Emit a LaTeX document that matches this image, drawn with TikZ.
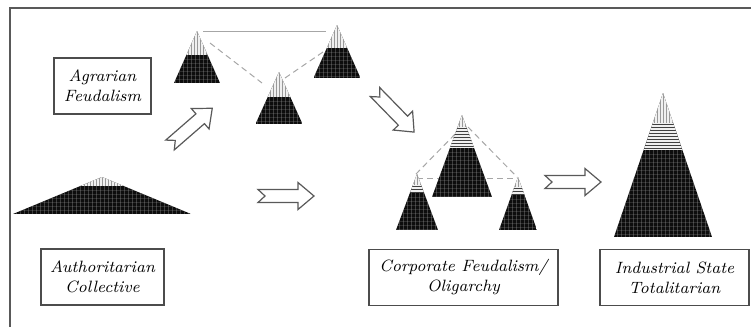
\documentclass[tikz,border=0pt]{standalone}
\usepackage{tikz}
\newcommand\pyramid[6]{%
\begin{scope}
\clip (#1,#2) -- (#1-#4,#3) -- (#1+#4,#3) -- cycle;
\fill[black!95] (#1-#4,#2) rectangle (#1+#4,#3);
\fill[gray!12] (#1-#4,#2-1) rectangle (#1+#4,#6);
\foreach \x in {-90,-87,...,90} \draw[gray!80,line width=0.5pt] (#1+\x,#2) -- (#1+\x,#5);
\begin{scope}
\clip (#1-#4,#5) rectangle (#1+#4,#6);
\foreach \y in {1.5,4.5,...,40} \draw[black!75,line width=0.8pt] (#1-#4,#5+\y) -- (#1+#4,#5+\y);
\end{scope}
\foreach \x in {-90,-86,...,90} \draw[gray!60,line width=0.2pt,opacity=0.3] (#1+\x,#6) -- (#1+\x,#3);
\foreach \y in {4,8,...,150} \draw[gray!60,line width=0.2pt,opacity=0.2] (#1-#4,#6+\y) -- (#1+#4,#6+\y);
\end{scope}}
\begin{document}
\begin{tikzpicture}[x=0.5pt,y=-0.5pt,
stagebox/.style={draw=black!70,line width=0.6pt,fill=white,align=center,minimum height=28pt,font=\fontsize{8.2}{10}\selectfont\itshape},
link/.style={draw=gray!70,line width=0.5pt},
blockarrow/.pic={\draw[black!65,fill=white,line width=0.6pt] (0,6.5) -- (40,6.5) -- (40,13.5) -- (56,0) -- (40,-13.5) -- (40,-6.5) -- (0,-6.5) -- (7,0) -- cycle;}]
\useasboundingbox (0,0) rectangle (751,327);
\draw[black!65,line width=0.8pt] (751,8) -- (10,8) -- (10,327);
\coordinate (L1) at (203,31);
\coordinate (L2) at (326,31);
\coordinate (A1) at (210,43);
\coordinate (A3) at (262,83);
\coordinate (A3r) at (285,78);
\coordinate (A2) at (323,52);
\coordinate (CM) at (462,127);
\coordinate (CMr) at (468,127);
\coordinate (CL) at (416,174);
\coordinate (CR) at (517,177);
\coordinate (CLh) at (417,178);
\coordinate (CRh) at (517,178);
\draw[link] (L1) -- (L2);
\draw[link,densely dashed] (A1) -- (A3);
\draw[link,densely dashed] (A3r) -- (A2);
\draw[link,densely dashed] (CM) -- (CL);
\draw[link,densely dashed] (CMr) -- (CR);
\draw[link,densely dashed] (CLh) -- (CRh);
\pyramid{197}{31}{83}{23}{55}{55}
\pyramid{337}{25}{78}{23.5}{48}{48}
\pyramid{279}{72}{124}{23.5}{97}{97}
\pyramid{102}{177}{214}{89}{186}{186}
\pyramid{462}{115}{197}{30}{127}{148}
\pyramid{417}{174}{230}{21}{185}{193}
\pyramid{518}{177}{230}{19}{187}{195}
\pyramid{663}{93}{237}{49}{123}{150}
\pic[rotate=41] at (170,145) {blockarrow};
\pic[rotate=-45.7] at (375,92) {blockarrow};
\pic at (258,196) {blockarrow};
\pic at (545,182) {blockarrow};
\node[stagebox,minimum width=48.5pt] (agrarian) at (102.5,86) {Agrarian\\Feudalism};
\node[stagebox,minimum width=61.5pt] (collective) at (102.5,277) {Authoritarian\\Collective};
\node[stagebox,minimum width=94.5pt] (corporate) at (463.5,277.5) {Corporate Feudalism/\\Oligarchy};
\node[stagebox,minimum width=74.5pt] (industrial) at (674.5,277.5) {Industrial State\\Totalitarian};
\end{tikzpicture}
\end{document}
